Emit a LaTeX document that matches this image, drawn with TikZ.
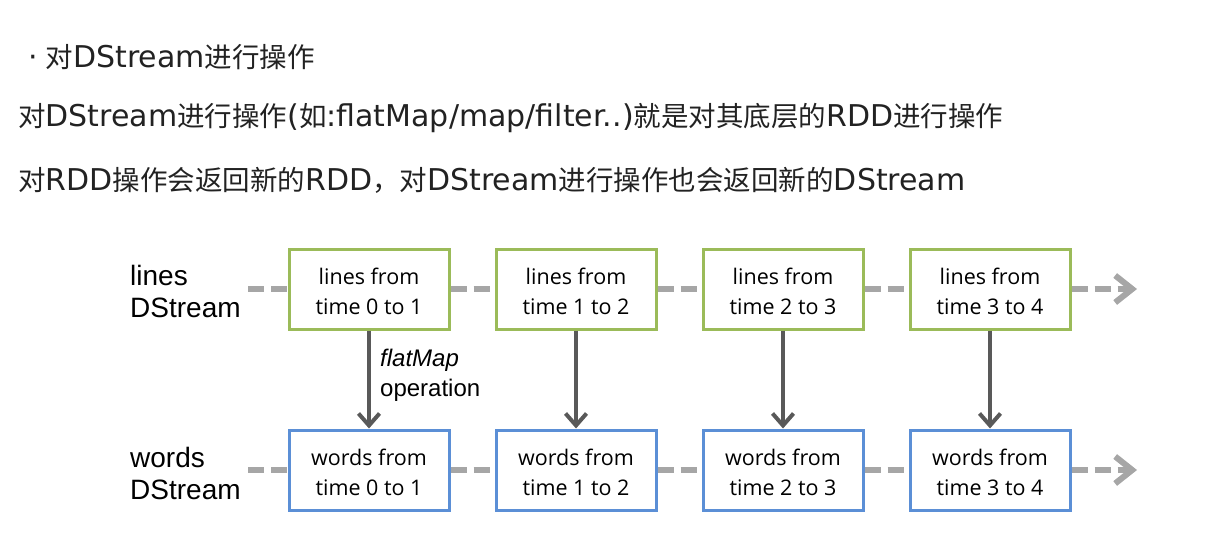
\documentclass[tikz,border=0pt]{standalone}
\usepackage{fontspec}
\setmainfont{Open Sans}
\newfontfamily\latin{DejaVu Sans}
\newfontfamily\cjk{Noto Sans CJK SC}
\newfontfamily\arial{Liberation Sans}
\newcommand{\zh}[1]{{\cjk\fontsize{27.5}{32}\selectfont #1}}
\usetikzlibrary{arrows.meta}
\usetikzlibrary{positioning}
\definecolor{linegreen}{HTML}{9BBB59}
\definecolor{wordblue}{HTML}{5B8FD6}
\definecolor{dashgray}{HTML}{A6A6A6}
\definecolor{opgray}{HTML}{595959}
\definecolor{txt}{HTML}{222222}
\tikzset{
	batch/.style={draw, line width=3pt, minimum width=160pt, minimum height=80pt, inner sep=0pt, align=center, font=\fontsize{21.5}{30}\selectfont},
	linesbox/.style={batch, draw=linegreen},
	wordsbox/.style={batch, draw=wordblue},
	stream/.style={dashgray, line width=6pt, dash pattern=on 16pt off 7pt},
	streamend/.style={stream, -{Straight Barb[length=17pt,width=27pt]}},
	op/.style={opgray, line width=4pt, -{Straight Barb[length=12pt,width=21pt]}},
	streamlabel/.style={anchor=west, align=left, inner sep=0pt, font=\arial\fontsize{28}{32}\selectfont},
	para/.style={anchor=west, inner sep=0pt, text=txt, font=\latin\fontsize{30}{32}\selectfont}
}
\newcommand{\timeslot}[3] % from, to, centre x in pt
{
	% one batch of each stream
	\node[linesbox] (l#1) at (#3, 289) {\rule{0pt}{22pt}lines from\\time #1 to #2};
	\node[wordsbox] (w#1) at (#3, 470) {\rule{0pt}{22pt}words from\\time #1 to #2};
	% operation on the batch
	\draw[op] (l#1) -- (w#1);
}

\begin{document}
\begin{tikzpicture}[x=1pt, y=-1pt]
	% page: 1215 x 555
	\useasboundingbox (0, 0) rectangle (1215, 555);
	% notes above the picture
	\node[para] (t1) at (28, 57) {·\hspace{8pt}\zh{对}DStream\zh{进行操作}};
	\node[para] (t2) at (18, 118) {\zh{对}DStream\zh{进行操作}(\zh{如}:flatMap/map/filter..)\zh{就是对其底层的}RDD\zh{进行操作}};
	\node[para] (t3) at (18, 180) {\zh{对}RDD\zh{操作会返回新的}RDD\zh{，对}DStream\zh{进行操作也会返回新的}DStream};
	% stream names
	\node[streamlabel] (lname) at (130, 291) {lines\\DStream};
	\node[streamlabel] (wname) at (130, 473) {words\\DStream};
	% batches
	\timeslot{0}{1}{369};
	\timeslot{1}{2}{576};
	\timeslot{2}{3}{783};
	\timeslot{3}{4}{990};
	\node[anchor=west, align=left, inner sep=0pt, font=\arial\fontsize{24}{30}\selectfont] (oplabel) at (380, 375) {\textit{flatMap}\\operation};
	% time line of lines
	\coordinate (lstart) at (248, 289);
	\coordinate (lend) at (1137, 289);
	\draw[stream] (lstart) -- (l0);
	\draw[stream] (l0) -- (l1);
	\draw[stream] (l1) -- (l2);
	\draw[stream] (l2) -- (l3);
	\draw[streamend] (l3) -- (lend);
	% time line of words
	\coordinate (wstart) at (248, 470);
	\coordinate (wend) at (1137, 470);
	\draw[stream] (wstart) -- (w0);
	\draw[stream] (w0) -- (w1);
	\draw[stream] (w1) -- (w2);
	\draw[stream] (w2) -- (w3);
	\draw[streamend] (w3) -- (wend);
\end{tikzpicture}
\end{document}
